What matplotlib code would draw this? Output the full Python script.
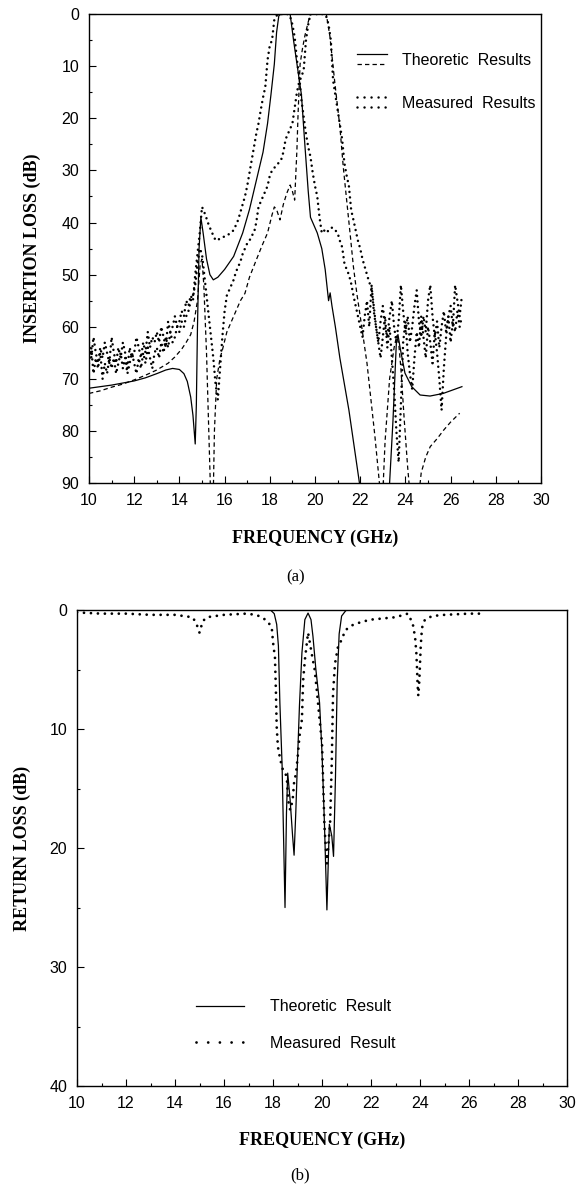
import numpy as np
import matplotlib
matplotlib.use("Agg")
import matplotlib.pyplot as plt
from matplotlib.lines import Line2D
from matplotlib.legend_handler import HandlerBase
from matplotlib.ticker import MultipleLocator

SANS = ["Liberation Sans Narrow", "Liberation Sans", "DejaVu Sans"]
SERIF = ["Liberation Serif", "DejaVu Serif"]
plt.rcParams["font.family"] = SANS

# ---------------------------------------------------------------- (a) data
# theoretic insertion loss, filter 1 (solid) and filter 2 (dashed)
il_solid_f = [10.0, 10.5, 11.0, 11.5, 12.0, 12.5, 13.0, 13.4, 13.7, 14.0,
              14.2, 14.35, 14.5, 14.6, 14.7, 14.75, 14.8, 14.87, 14.95, 15.05,
              15.2, 15.35, 15.5, 15.7, 16.0, 16.4, 16.8, 17.1, 17.4, 17.7,
              17.9, 18.05, 18.2, 18.3, 18.4, 18.5, 18.9, 19.05, 19.2, 19.4,
              19.55, 19.7, 19.8, 19.95, 20.1, 20.3, 20.45, 20.55, 20.6, 20.67,
              20.75, 20.9, 21.1, 21.3, 21.5, 21.7, 21.9, 22.0, 22.6, 23.25,
              23.3, 23.45, 23.6, 23.67, 23.76, 23.98, 24.28, 24.65, 25.09, 25.67,
              26.5]
il_solid_db = [71.8, 71.5, 71.2, 70.8, 70.4, 69.8, 69.0, 68.3, 68.0, 68.2,
               69.0, 70.5, 73.5, 77.0, 82.5, 75.0, 60.0, 45.0, 39.0, 42.0,
               47.0, 50.0, 51.0, 50.5, 49.0, 46.5, 42.0, 37.5, 32.0, 26.5,
               21.0, 15.5, 9.6, 3.5, 0.3, 0.0, 0.0, 5.0, 9.5, 15.5,
               25.0, 34.0, 39.0, 40.5, 42.0, 45.0, 49.0, 53.0, 55.0, 53.5,
               56.0, 60.0, 66.0, 71.0, 76.0, 82.0, 88.0, 91.0, 110.0, 92.0,
               90.0, 78.0, 63.0, 61.5, 63.9, 68.9, 71.5, 73.1, 73.3, 72.8,
               71.5]

il_dash_f = [10.0, 10.5, 11.0, 11.5, 12.0, 12.5, 13.0, 13.5, 13.8, 14.1,
             14.3, 14.5, 14.65, 14.8, 14.92, 15.0, 15.08, 15.2, 15.3, 15.38,
             15.45, 15.5, 15.55, 15.65, 15.8, 15.9, 16.1, 16.4, 16.7, 16.9,
             17.1, 17.4, 17.65, 17.9, 18.1, 18.2, 18.3, 18.45, 18.6, 18.75,
             18.9, 19.0, 19.1, 19.2, 19.25, 19.34, 19.45, 19.56, 19.7, 19.8,
             20.5, 20.66, 20.88, 21.1, 21.25, 21.4, 21.55, 21.7, 21.85, 22.0,
             22.3, 22.65, 22.85, 22.95, 23.0, 23.1, 23.3, 23.5, 23.6, 23.7,
             23.8, 23.95, 24.1, 24.2, 24.4, 24.6, 24.7, 24.9, 25.1, 25.4,
             25.7, 26.0, 26.4]
il_dash_db = [72.8, 72.3, 71.6, 71.0, 70.2, 69.3, 68.3, 67.0, 65.8, 64.3,
              63.0, 61.5, 59.0, 55.0, 48.0, 47.0, 52.0, 65.0, 80.0, 92.0,
              110.0, 92.0, 80.0, 70.0, 66.0, 64.5, 61.0, 58.0, 55.0, 53.6,
              50.5, 47.2, 44.5, 42.0, 38.5, 37.0, 37.5, 39.5, 36.5, 34.4,
              32.8, 34.0, 35.7, 26.0, 19.2, 9.6, 6.5, 4.0, 1.5, 0.0,
              0.0, 4.3, 13.3, 21.6, 29.3, 35.7, 42.0, 48.5, 53.6, 58.0,
              67.0, 81.0, 90.0, 95.0, 92.0, 82.0, 70.0, 64.0, 62.0, 63.0,
              68.0, 78.0, 87.0, 92.0, 110.0, 92.0, 88.0, 85.0, 83.0, 81.5,
              79.8, 78.3, 76.6]

# measured insertion loss, sampled every 0.1 GHz from 10.0 to 26.5
il_meas_f = np.round(np.arange(100, 266) / 10.0, 1)
il_meas1_db = [63, 66, 62, 65, 67, 64, 66, 63, 65, 67,
               62, 65, 67, 64, 66, 63, 65, 68, 64, 66,
               65, 62, 64, 66, 63, 65, 61, 64, 62, 63,
               61, 63, 60, 62, 64, 59, 61, 60, 58, 60,
               59, 57, 58, 55, 56, 54, 55, 50, 46, 42,
               37, 38, 39.2, 40.5, 41.5, 42.5, 43.4, 43.4, 43, 42.8,
               42.7, 42.5, 42.2, 41.8, 41.5, 40.5, 39.5, 38, 36.5, 35,
               33, 30.5, 28, 25.5, 23, 21, 18.4, 16, 14, 8.8,
               6, 5, 1, 0.3, 0, 0, 0, 0, 0, 0.5,
               2, 4.4, 8.8, 12, 16.5, 19.7, 23, 25.5, 27.4, 30.5,
               33, 35, 39, 42, 41.5, 42, 41.5, 41, 41, 41.5,
               42, 43.5, 44.7, 47.8, 49, 50, 51.7, 54, 56, 58,
               60, 62, 58, 55, 60, 52, 57, 60, 63, 59,
               56, 60, 62, 58, 55, 60, 63, 59, 52, 57,
               61, 58, 63, 60, 56, 53, 59, 62, 58, 61,
               55, 52, 58, 62, 59, 64, 60, 57, 61, 58,
               56, 60, 52, 55, 58, 54]
il_meas2_db = [67, 64, 69, 66, 68, 65, 70, 67, 69, 66,
               68, 66, 69, 67, 65, 68, 66, 69, 67, 65,
               67, 69, 66, 68, 65, 67, 64, 66, 68, 65,
               64, 66, 63, 65, 62, 64, 61, 63, 62, 60,
               61, 59, 60, 58, 57, 55, 54, 52, 48, 45,
               46, 50, 54, 58, 62, 66, 71, 74, 68, 62,
               57, 54, 53, 52, 51, 49.5, 48.5, 47.5, 46, 45,
               44, 43.5, 42.5, 42, 40, 37, 36, 35, 34, 33,
               31, 30, 29.5, 29, 28.5, 28, 26.5, 24, 23, 22,
               21, 18, 15, 13, 12, 10.7, 5, 2, 0, 0,
               0, 0, 0, 0, 0, 0.5, 2, 5, 12.7, 15.5,
               18.4, 21, 24, 28.6, 31, 33, 37.6, 39.5, 41.5, 43.5,
               45, 47, 48.5, 50, 51.5, 52.4, 56, 60, 63, 66,
               62, 58, 64, 60, 66, 72, 80, 86, 75, 63,
               59, 65, 69, 72, 66, 61, 64, 58, 62, 66,
               60, 63, 67, 61, 65, 70, 76, 68, 62, 58,
               63, 59, 61, 57, 60, 58]

# ---------------------------------------------------------------- (b) data
rl_theo_f = [10.0, 17.9, 18.05, 18.15, 18.22, 18.28, 18.37, 18.44, 18.49, 18.55,
             18.6, 18.7, 18.8, 18.86, 18.93, 19.0, 19.08, 19.18, 19.3, 19.43,
             19.55, 19.63, 19.75, 19.9, 20.0, 20.1, 20.2, 20.3, 20.4, 20.47,
             20.55, 20.62, 20.7, 20.8, 20.95, 21.0, 30.0]
rl_theo_db = [0.0, 0.0, 0.3, 1.2, 3.0, 7.8, 13.0, 20.0, 25.0, 17.0,
              13.7, 16.0, 19.0, 20.6, 17.0, 12.6, 8.0, 3.6, 0.8, 0.25,
              0.8, 2.2, 5.0, 7.8, 12.0, 18.0, 25.2, 18.0, 19.0, 20.7,
              14.0, 6.0, 2.0, 0.5, 0.1, 0.0, 0.0]

rl_meas_f = [10.0, 11.0, 12.0, 13.0, 14.0, 14.7, 14.85, 14.95, 15.0, 15.05,
             15.15, 15.3, 16.0, 16.9, 17.3, 17.55, 17.8, 17.95, 18.0, 18.08,
             18.12, 18.15, 18.2, 18.3, 18.4, 18.5, 18.57, 18.62, 18.7, 18.8,
             18.86, 18.94, 19.0, 19.08, 19.18, 19.23, 19.3, 19.43, 19.5, 19.6,
             19.7, 19.8, 19.9, 20.0, 20.1, 20.2, 20.33, 20.4, 20.45, 20.53,
             20.65, 20.8, 20.95, 21.2, 21.6, 22.0, 22.5, 23.0, 23.5, 23.7,
             23.8, 23.85, 23.88, 23.9, 23.93, 23.97, 24.0, 24.03, 24.08, 24.2,
             24.5, 25.0, 26.0, 26.5]
rl_meas_db = [0.2, 0.3, 0.3, 0.4, 0.4, 0.6, 1.0, 1.6, 1.9, 1.5,
              0.9, 0.6, 0.4, 0.3, 0.4, 0.6, 1.0, 1.5, 2.7, 4.0,
              7.0, 9.8, 11.5, 12.6, 13.4, 13.6, 14.3, 16.0, 16.8, 16.0,
              14.5, 13.7, 12.5, 10.6, 9.2, 5.9, 4.2, 1.9, 2.7, 3.9,
              5.0, 7.0, 9.2, 11.2, 18.2, 21.3, 17.9, 12.6, 7.0, 4.5,
              3.1, 2.5, 1.7, 1.3, 1.0, 0.8, 0.7, 0.6, 0.3, 1.1,
              2.3, 3.6, 5.0, 6.2, 7.2, 6.0, 4.5, 3.0, 1.5, 0.8,
              0.5, 0.4, 0.3, 0.3]


class StackedHandler(HandlerBase):
    """legend handle drawing the lines of a tuple one above the other"""
    def create_artists(self, legend, orig_handle, xdescent, ydescent,
                       width, height, fontsize, trans):
        out = []
        n = len(orig_handle)
        for i, h in enumerate(orig_handle):
            y = height * (0.95 - 0.9 * i / max(n - 1, 1)) - ydescent
            ln = Line2D([-xdescent, width - xdescent], [y, y])
            ln.update_from(h)
            ln.set_transform(trans)
            out.append(ln)
        return out


def style_axes(ax, ymax, ystep):
    ax.set_xlim(10, 30)
    ax.set_ylim(ymax, 0)
    ax.xaxis.set_major_locator(MultipleLocator(2))
    ax.xaxis.set_minor_locator(MultipleLocator(1))
    ax.yaxis.set_major_locator(MultipleLocator(ystep))
    ax.yaxis.set_minor_locator(MultipleLocator(ystep / 2))
    ax.tick_params(which="both", direction="in", top=False, right=False,
                   width=0.8, labelsize=11.5)
    ax.tick_params(which="major", length=5, pad=7)
    ax.tick_params(which="minor", length=2.5)
    for sp in ax.spines.values():
        sp.set_linewidth(1.0)


THEO = dict(color="black", lw=0.9)
DASH = dict(color="black", lw=0.9, linestyle=(0, (3.5, 2.5)))

fig = plt.figure(figsize=(5.79, 11.86), dpi=100)

# ---------------------------------------------------------------- (a)
ax1 = fig.add_axes([0.1537, 0.5927, 0.7807, 0.3954])
dots_a = dict(color="black", lw=1.8, linestyle=(0, (0.01, 2.2)),
              dash_capstyle="round")
ax1.plot(il_meas_f, il_meas1_db, **dots_a)
ax1.plot(il_meas_f, il_meas2_db, **dots_a)
ax1.plot(il_solid_f, il_solid_db, **THEO)
ax1.plot(il_dash_f, il_dash_db, **DASH)
style_axes(ax1, 90, 10)
ax1.set_xlabel("FREQUENCY (GHz)", family=SERIF, fontweight="bold", fontsize=13)
ax1.set_ylabel("INSERTION LOSS (dB)", family=SERIF, fontweight="bold", fontsize=13)
ax1.xaxis.set_label_coords(0.5, -0.1)
ax1.yaxis.set_label_coords(-0.106, 0.5)

leg_dot_a = dict(color="black", lw=1.8, linestyle=(0, (0.01, 2.8)),
                 dash_capstyle="round")
h_theo = (Line2D([], [], **THEO), Line2D([], [], **DASH))
h_meas = (Line2D([], [], **leg_dot_a), Line2D([], [], **leg_dot_a))
ax1.legend([h_theo, h_meas], ["Theoretic  Results", "Measured  Results"],
           handler_map={tuple: StackedHandler()}, loc="upper left",
           bbox_to_anchor=(0.593, 0.918), frameon=False, fontsize=11.5,
           handlelength=1.9, handletextpad=0.9, labelspacing=1.75,
           borderpad=0, borderaxespad=0)

fig.text(0.51, 0.5135, "(a)", family=SERIF, fontsize=12, ha="center", va="center")

# ---------------------------------------------------------------- (b)
ax2 = fig.add_axes([0.1330, 0.0843, 0.8463, 0.4013])
dots_b = dict(color="black", lw=2.0, linestyle=(0, (0.01, 2.5)),
              dash_capstyle="round")
ax2.plot(rl_meas_f, rl_meas_db, **dots_b)
ax2.plot(rl_theo_f, rl_theo_db, **THEO)
style_axes(ax2, 40, 10)
ax2.set_xlabel("FREQUENCY (GHz)", family=SERIF, fontweight="bold", fontsize=13)
ax2.set_ylabel("RETURN LOSS (dB)", family=SERIF, fontweight="bold", fontsize=13)
ax2.xaxis.set_label_coords(0.5, -0.097)
ax2.yaxis.set_label_coords(-0.094, 0.5)

leg_dot_b = dict(color="black", lw=2.0, linestyle=(0, (0.01, 4.2)),
                 dash_capstyle="round")
ax2.legend([Line2D([], [], **THEO), Line2D([], [], **leg_dot_b)],
           ["Theoretic  Result", "Measured  Result"], loc="upper left",
           bbox_to_anchor=(0.243, 0.182), frameon=False, fontsize=11.5,
           handlelength=3.0, handletextpad=1.6, labelspacing=1.35,
           borderpad=0, borderaxespad=0)

fig.text(0.518, 0.009, "(b)", family=SERIF, fontsize=12, ha="center", va="center")

fig.savefig("out.png", dpi=100)
